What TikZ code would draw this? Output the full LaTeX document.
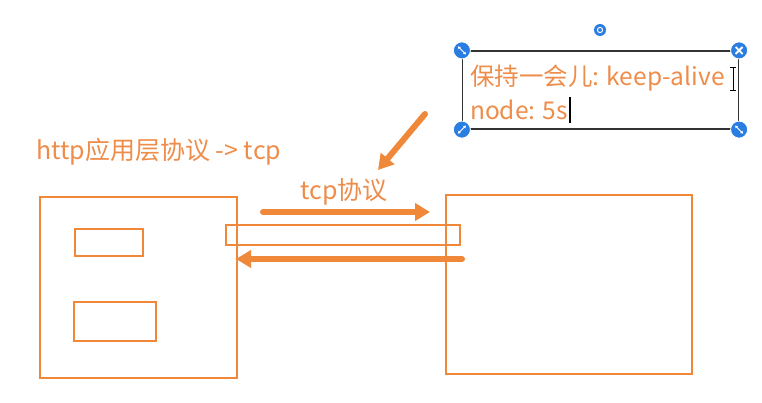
\documentclass[tikz,border=0pt]{standalone}
\usepackage{fontspec}
\setmainfont{Noto Sans CJK SC}
\usetikzlibrary{arrows.meta}
\definecolor{netorange}{HTML}{F0883A}
\definecolor{textorange}{HTML}{EE8C4A}
\definecolor{handleblue}{HTML}{2A7DE1}
\tikzset{
  hostbox/.style={draw=netorange, line width=2.2pt, inner sep=0pt},
  bigarrow/.style={netorange, line width=6pt, -{Triangle[length=15pt, width=17pt]}},
  label/.style={text=textorange, font=\fontsize{25}{30}\selectfont, inner sep=0pt},
  handle/.style={circle, fill=handleblue, draw=white, line width=0.8pt, minimum size=17pt, inner sep=0pt}
}
\begin{document}
\begin{tikzpicture}[x=1pt, y=-1pt]
    \useasboundingbox (0,0) rectangle (762,403);
    % Client and server
    \node[hostbox, minimum width=197pt, minimum height=181pt] (client) at (138.5,287.5) {};
    \node[hostbox, minimum width=68pt, minimum height=27pt] (slotA) at (109,242.5) {};
    \node[hostbox, minimum width=82pt, minimum height=39pt] (slotB) at (115,321.5) {};
    \node[hostbox, minimum width=246pt, minimum height=179pt] (server) at (569,284.5) {};
    \node[hostbox, minimum width=234pt, minimum height=20pt] (pipe) at (343,235) {};

    % Labels
    \node[label, anchor=west] (http) at (36,152) {http应用层协议 -> tcp};
    \node[label] (tcp) at (344,192) {tcp协议};

    % Arrows
    \coordinate (goStart) at (263,212);
    \coordinate (goEnd) at (430,212);
    \coordinate (backStart) at (462,259);
    \coordinate (backEnd) at (236,259);
    \coordinate (hintStart) at (425,114);
    \coordinate (hintEnd) at (378,170);
    \draw[bigarrow, line cap=round] (goStart) -- (goEnd);
    \draw[bigarrow, line cap=round] (backStart) -- (backEnd);
    \draw[bigarrow, line cap=round] (hintStart) -- (hintEnd);

    % Note box being edited
    \node[draw=black!80, line width=1.2pt, minimum width=276pt, minimum height=78pt, inner sep=0pt] (note) at (600.5,90) {};
    \node[label, font=\fontsize{24.5}{29}\selectfont, anchor=west] (noteA) at (470,78) {保持一会儿: keep-alive};
    \node[label, font=\fontsize{24.5}{29}\selectfont, anchor=west] (noteB) at (470,110) {node: 5s};
    \draw[black, line width=1.8pt] (noteB.east) ++(2,-13) -- ++(0,26);
    \draw[black, line width=0.7pt] (730,67) -- (736,67) (733,67) -- (733,90) (730,90) -- (736,90);

    % Handles
    \foreach \pos/\name in {note.north west/hNW, note.north east/hNE, note.south west/hSW, note.south east/hSE}
        \node[handle] (\name) at (\pos) {};
    \foreach \name in {hNW, hSE}
        \draw[white, line width=1pt, {Triangle[length=2.5pt,width=3pt]}-{Triangle[length=2.5pt,width=3pt]}] (\name.center) ++(-4,-4) -- ++(8,8);
    \draw[white, line width=1pt, {Triangle[length=2.5pt,width=3pt]}-{Triangle[length=2.5pt,width=3pt]}] (hSW.center) ++(-4,4) -- ++(8,-8);
    \draw[white, line width=1.8pt] (hNE.center) ++(-3.5,-3.5) -- ++(7,7) (hNE.center) ++(-3.5,3.5) -- ++(7,-7);
    \node[circle, fill=handleblue, minimum size=12pt, inner sep=0pt] (rotate) at (600,30) {};
    \draw[white, line width=1pt] (rotate.center) circle (2.6pt);
\end{tikzpicture}
\end{document}
